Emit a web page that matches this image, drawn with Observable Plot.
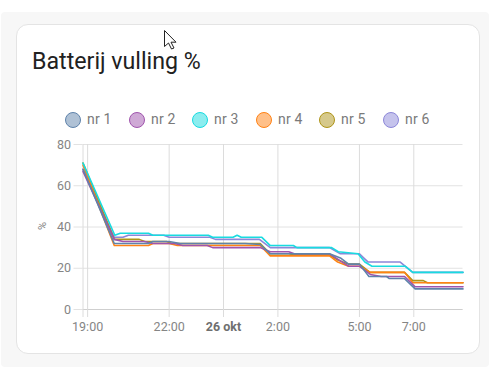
<!DOCTYPE html>
<html><head><meta charset="utf-8">
<script src="https://cdn.jsdelivr.net/npm/d3@7"></script>
<script src="https://cdn.jsdelivr.net/npm/@observablehq/plot@0.6"></script>
<style>
html,body{margin:0;padding:0;background:#fff;width:489px;height:377px;overflow:hidden;font-family:Roboto,sans-serif}
#bg{position:absolute;left:1px;top:12px;width:488px;height:355px;background:#f7f7f7;border-radius:4px}
#card{position:absolute;left:16px;top:24px;width:462px;height:328px;background:#fff;border:1px solid #e4e4e4;border-radius:12px}
h1{position:absolute;left:32px;top:47px;margin:0;font-size:23.2px;line-height:28px;font-weight:400;color:#212121}
#legend{position:absolute;left:0;top:110px;width:489px;height:18px}
#legend span{position:absolute;top:0;font-size:14px;line-height:18px;color:#7a7a7a;letter-spacing:.2px}
#legend i{position:absolute;top:1.5px;width:14px;height:14px;border-radius:50%;border:1px solid;box-sizing:content-box}
#chart{position:absolute;left:0;top:130px}
#chart svg{display:block;background:transparent}
#cursor{position:absolute;left:164px;top:30px}
</style></head><body>
<div id="bg"></div><div id="card"></div>
<h1>Batterij vulling %</h1>
<div id="legend"></div>
<div id="chart"></div>
<svg id="cursor" width="14" height="20"><path d="M.5 .5V16.5L4.5 13L7.5 19L10 18L7 12.2H12Z" fill="#fff" stroke="#222" stroke-width="1"/></svg>
<script>
const names=["nr 1","nr 2","nr 3","nr 4","nr 5","nr 6"];
const colors=["#5f83ab","#a054ad","#18dbe0","#ff8214","#ae9418","#8c87d9"];
const legendX=[65,129,192,256,319,383];
const textX=[87,151,214,278,341,405];
// hours relative to midnight 26 okt, value in %
const nr1T=[-5.17,-4.02,-2.76,-2.6,-2.0,-1.6,0.8,1.35,1.72,3.9,4.3,4.6,5.0,5.35,6.0,6.1,6.66,7.05,8.81];
const nr1V=[68,32,32,33,33,32,32,31.5,27,27,25,22,22,16,16,15,15,10,10];
const nr2T=[-5.17,-4.02,-3.7,-2.9,-2.6,-1.8,-1.5,-0.6,-0.4,1.35,1.72,2.4,2.6,3.9,4.6,5.0,5.4,5.8,6.66,7.05,8.81];
const nr2V=[67,34,33,33,32,32,31,31,30,30,28,28,27,27,21,21,17,16,16,11,11];
const nr3T=[-5.17,-4.0,-3.8,-2.76,-2.6,-0.56,-0.4,0.35,0.5,0.65,0.8,1.41,1.72,2.57,2.7,3.98,4.22,4.95,5.2,5.46,6.68,6.96,8.81];
const nr3V=[71,36,37,37,36,36,35,35,36,35,35,35,31,31,30,30,28,27,23,21,21,18,18];
const nr4T=[-5.17,-4.02,-2.76,-2.6,-2.0,-1.7,0.0,1.35,1.72,3.9,4.2,4.6,5.0,5.39,6.66,6.96,8.81];
const nr4V=[70,31,31,32,32,31,31,31,26,26,23,21,21,18,18,13,13];
const nr5T=[-5.17,-4.02,-3.8,-3.1,-2.9,-2.1,-1.9,1.35,1.72,2.4,2.6,3.9,4.2,4.6,5.0,5.39,6.66,6.96,7.35,7.5,8.81];
const nr5V=[71,34,34,34,33,33,32,32,27,27,26.5,26.5,24,22,22,18,18,14,14,13,13];
const nr6T=[-5.17,-4.02,-3.7,-3.5,-2.2,-2.0,-0.5,-0.3,1.32,1.72,3.9,4.3,5.0,5.32,6.5,6.96,8.81];
const nr6V=[68,35,35,36,36,35,35,34,34,30,30,27,27,23,23,18,18];
const times=[nr1T,nr2T,nr3T,nr4T,nr5T,nr6T];
const values=[nr1V,nr2V,nr3V,nr4V,nr5V,nr6V];
const yTicks=[0,20,40,60,80];
const hourTicks=[-5,-2,2,5,7];
const hourLabels=["19:00","22:00","2:00","5:00","7:00"];
const dayTick=[0];
const dayLabel="26 okt";
const xDomain=[-5.17,8.81];

const rows=names.flatMap((n,i)=>times[i].map((t,j)=>({name:n,t,v:values[i][j]})));
const grid="#e2e2e2", vgrid="#dcdcdc", text="#858585";
const chart=Plot.plot({
  width:489,height:210,marginTop:14,marginBottom:31,marginLeft:82.5,marginRight:26.5,
  style:{fontFamily:"Roboto,sans-serif",fontSize:"12.5px",background:"transparent"},
  x:{domain:xDomain,axis:null},
  y:{domain:[0,80],axis:null},
  color:{domain:names,range:colors},
  marks:[
    Plot.gridY(yTicks,{stroke:grid,strokeOpacity:1}),
    Plot.gridX([...hourTicks,...dayTick],{stroke:vgrid,strokeOpacity:1}),
    Plot.ruleX([xDomain[0]],{stroke:vgrid}),
    Plot.ruleY([0],{stroke:"#cfcfcf"}),
    Plot.axisY(yTicks,{anchor:"left",tickSize:9,tickPadding:3,stroke:grid,fill:text,label:null}),
    Plot.axisX([xDomain[0]],{anchor:"bottom",tickSize:8,stroke:vgrid,label:null,tickFormat:()=>""}),
    Plot.axisX(hourTicks,{anchor:"bottom",tickSize:8,tickPadding:5,stroke:vgrid,fill:text,label:null,
      tickFormat:d=>hourLabels[hourTicks.indexOf(d)]}),
    Plot.axisX(dayTick,{anchor:"bottom",tickSize:8,tickPadding:5,stroke:vgrid,fill:"#6f6f6f",fontWeight:"bold",label:null,
      tickFormat:()=>dayLabel}),
    Plot.line(rows,{x:"t",y:"v",z:"name",stroke:"name",strokeWidth:1.6,curve:"linear",sort:null}),
  ]
});
// series are painted last-to-first, as in the reference
const gs=chart.querySelectorAll('g[aria-label="line"] path');
if(gs.length){const p=gs[0].parentNode;[...gs].reverse().forEach(e=>p.appendChild(e));}
const svgNS="http://www.w3.org/2000/svg";
const yl=document.createElementNS(svgNS,"text");
yl.textContent="%";
yl.setAttribute("transform","translate(46,96) rotate(-90)");
yl.setAttribute("text-anchor","middle");
yl.setAttribute("fill",text);
yl.setAttribute("font-size","11");
chart.appendChild(yl);
document.getElementById("chart").appendChild(chart);
const lg=document.getElementById("legend");
names.forEach((n,i)=>{
  const c=document.createElement("i");
  c.style.left=legendX[i]+"px";c.style.borderColor=colors[i];
  c.style.background=colors[i]+"80";
  lg.appendChild(c);
  const s=document.createElement("span");
  s.style.left=textX[i]+"px";s.textContent=n;lg.appendChild(s);
});
</script>
</body></html>
